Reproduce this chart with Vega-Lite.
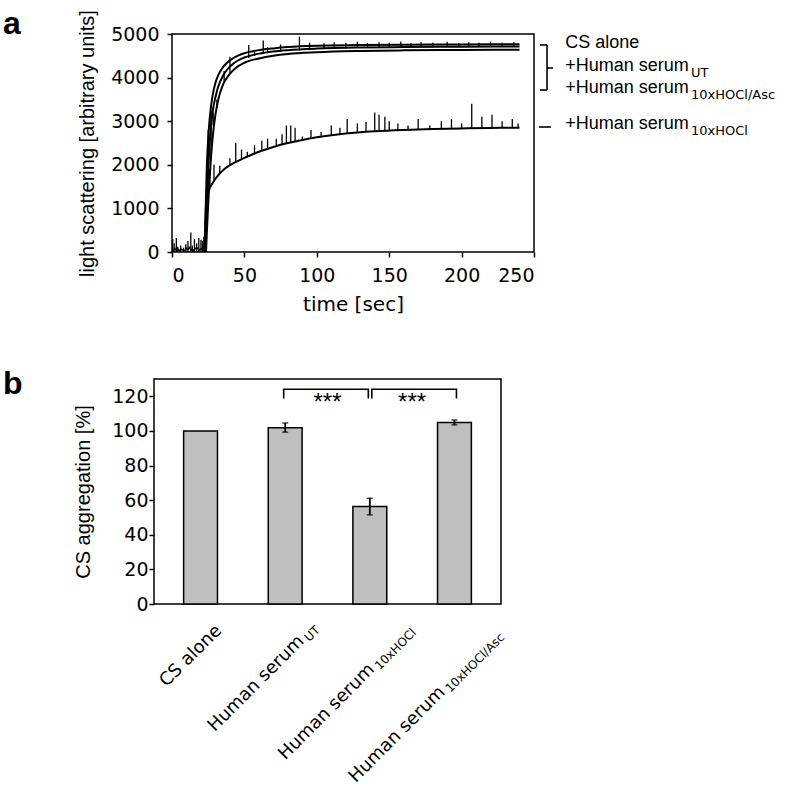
{
  "$schema": "https://vega.github.io/schema/vega-lite/v6.json",
  "background": "white",
  "padding": {"left": -5, "top": 6, "right": 0, "bottom": 0},
  "spacing": 52,
  "datasets": {
    "curves": [
      {"s": "A", "t": 22.5, "v": 0}, {"s": "A", "t": 23, "v": 600}, {"s": "A", "t": 23.5, "v": 1300}, {"s": "A", "t": 24, "v": 1900}, {"s": "A", "t": 25, "v": 2600}, {"s": "A", "t": 26, "v": 3050}, {"s": "A", "t": 27, "v": 3350}, {"s": "A", "t": 28, "v": 3580}, {"s": "A", "t": 30, "v": 3880}, {"s": "A", "t": 32, "v": 4060}, {"s": "A", "t": 35, "v": 4230}, {"s": "A", "t": 38, "v": 4340}, {"s": "A", "t": 42, "v": 4440}, {"s": "A", "t": 46, "v": 4510}, {"s": "A", "t": 50, "v": 4560}, {"s": "A", "t": 55, "v": 4600}, {"s": "A", "t": 60, "v": 4630}, {"s": "A", "t": 70, "v": 4670}, {"s": "A", "t": 80, "v": 4700}, {"s": "A", "t": 100, "v": 4730}, {"s": "A", "t": 130, "v": 4745}, {"s": "A", "t": 160, "v": 4755}, {"s": "A", "t": 200, "v": 4760}, {"s": "A", "t": 240, "v": 4765},
      {"s": "B", "t": 23, "v": 0}, {"s": "B", "t": 23.5, "v": 500}, {"s": "B", "t": 24, "v": 1100}, {"s": "B", "t": 25, "v": 1900}, {"s": "B", "t": 26, "v": 2500}, {"s": "B", "t": 27, "v": 2900}, {"s": "B", "t": 28, "v": 3200}, {"s": "B", "t": 30, "v": 3550}, {"s": "B", "t": 32, "v": 3800}, {"s": "B", "t": 35, "v": 4030}, {"s": "B", "t": 38, "v": 4180}, {"s": "B", "t": 42, "v": 4310}, {"s": "B", "t": 46, "v": 4400}, {"s": "B", "t": 50, "v": 4460}, {"s": "B", "t": 55, "v": 4510}, {"s": "B", "t": 60, "v": 4550}, {"s": "B", "t": 70, "v": 4600}, {"s": "B", "t": 80, "v": 4630}, {"s": "B", "t": 100, "v": 4665}, {"s": "B", "t": 130, "v": 4690}, {"s": "B", "t": 160, "v": 4700}, {"s": "B", "t": 200, "v": 4710}, {"s": "B", "t": 240, "v": 4715},
      {"s": "C", "t": 23.5, "v": 0}, {"s": "C", "t": 24, "v": 400}, {"s": "C", "t": 25, "v": 1100}, {"s": "C", "t": 26, "v": 1700}, {"s": "C", "t": 27, "v": 2200}, {"s": "C", "t": 28, "v": 2600}, {"s": "C", "t": 30, "v": 3150}, {"s": "C", "t": 32, "v": 3500}, {"s": "C", "t": 35, "v": 3820}, {"s": "C", "t": 38, "v": 4000}, {"s": "C", "t": 42, "v": 4160}, {"s": "C", "t": 46, "v": 4270}, {"s": "C", "t": 50, "v": 4340}, {"s": "C", "t": 55, "v": 4400}, {"s": "C", "t": 60, "v": 4440}, {"s": "C", "t": 70, "v": 4500}, {"s": "C", "t": 80, "v": 4540}, {"s": "C", "t": 100, "v": 4580}, {"s": "C", "t": 130, "v": 4610}, {"s": "C", "t": 160, "v": 4625}, {"s": "C", "t": 200, "v": 4635}, {"s": "C", "t": 240, "v": 4640},
      {"s": "D", "t": 22.5, "v": 0}, {"s": "D", "t": 23, "v": 600}, {"s": "D", "t": 23.5, "v": 1050}, {"s": "D", "t": 24, "v": 1250}, {"s": "D", "t": 25, "v": 1380}, {"s": "D", "t": 26, "v": 1460}, {"s": "D", "t": 28, "v": 1580}, {"s": "D", "t": 30, "v": 1680}, {"s": "D", "t": 33, "v": 1800}, {"s": "D", "t": 36, "v": 1900}, {"s": "D", "t": 40, "v": 1990}, {"s": "D", "t": 45, "v": 2080}, {"s": "D", "t": 50, "v": 2160}, {"s": "D", "t": 55, "v": 2230}, {"s": "D", "t": 60, "v": 2300}, {"s": "D", "t": 70, "v": 2410}, {"s": "D", "t": 80, "v": 2500}, {"s": "D", "t": 90, "v": 2570}, {"s": "D", "t": 100, "v": 2630}, {"s": "D", "t": 120, "v": 2720}, {"s": "D", "t": 140, "v": 2770}, {"s": "D", "t": 160, "v": 2800}, {"s": "D", "t": 180, "v": 2820}, {"s": "D", "t": 200, "v": 2835}, {"s": "D", "t": 220, "v": 2845}, {"s": "D", "t": 240, "v": 2850}
    ],
    "noise": [
      {"t": 0, "v": 100}, {"t": 1, "v": 40}, {"t": 2, "v": 90}, {"t": 3, "v": 30}, {"t": 4, "v": 70}, {"t": 5, "v": 20}, {"t": 6, "v": 80}, {"t": 7, "v": 40}, {"t": 8, "v": 60}, {"t": 9, "v": 20}, {"t": 10, "v": 90}, {"t": 11, "v": 50}, {"t": 12, "v": 110}, {"t": 13, "v": 40}, {"t": 14, "v": 70}, {"t": 15, "v": 30}, {"t": 16, "v": 90}, {"t": 17, "v": 50}, {"t": 18, "v": 100}, {"t": 19, "v": 40}, {"t": 20, "v": 80}, {"t": 21, "v": 60}, {"t": 22, "v": 90}, {"t": 22.5, "v": 0}
    ],
    "spikes": [
      {"t": 0.5, "lo": 0, "hi": 300}, {"t": 1.5, "lo": 0, "hi": 200}, {"t": 3, "lo": 0, "hi": 320}, {"t": 4, "lo": 0, "hi": 120}, {"t": 6, "lo": 0, "hi": 150}, {"t": 8, "lo": 0, "hi": 100}, {"t": 9.5, "lo": 0, "hi": 180}, {"t": 11, "lo": 0, "hi": 250}, {"t": 13, "lo": 0, "hi": 450}, {"t": 14, "lo": 0, "hi": 150}, {"t": 15.5, "lo": 0, "hi": 300}, {"t": 17, "lo": 0, "hi": 200}, {"t": 18.5, "lo": 0, "hi": 320}, {"t": 20, "lo": 0, "hi": 280}, {"t": 21, "lo": 0, "hi": 250}, {"t": 22, "lo": 0, "hi": 350},
      {"t": 25, "lo": 1500, "hi": 2800}, {"t": 27, "lo": 2200, "hi": 3250}, {"t": 28.5, "lo": 2900, "hi": 3200}, {"t": 31, "lo": 3300, "hi": 3500}, {"t": 36, "lo": 3900, "hi": 4150}, {"t": 40, "lo": 4100, "hi": 4480}, {"t": 53, "lo": 4450, "hi": 4750}, {"t": 57, "lo": 4500, "hi": 4620}, {"t": 63, "lo": 4550, "hi": 4850}, {"t": 66, "lo": 4560, "hi": 4700}, {"t": 75, "lo": 4600, "hi": 4760}, {"t": 88, "lo": 4620, "hi": 4940}, {"t": 95, "lo": 4640, "hi": 4800}, {"t": 105, "lo": 4660, "hi": 4790}, {"t": 112, "lo": 4660, "hi": 4810}, {"t": 120, "lo": 4670, "hi": 4800}, {"t": 128, "lo": 4680, "hi": 4820}, {"t": 135, "lo": 4680, "hi": 4790}, {"t": 143, "lo": 4690, "hi": 4810}, {"t": 150, "lo": 4690, "hi": 4800}, {"t": 158, "lo": 4690, "hi": 4830}, {"t": 165, "lo": 4700, "hi": 4790}, {"t": 172, "lo": 4700, "hi": 4810}, {"t": 180, "lo": 4700, "hi": 4800}, {"t": 190, "lo": 4700, "hi": 4820}, {"t": 198, "lo": 4700, "hi": 4790}, {"t": 205, "lo": 4710, "hi": 4810}, {"t": 212, "lo": 4710, "hi": 4800}, {"t": 220, "lo": 4710, "hi": 4830}, {"t": 228, "lo": 4710, "hi": 4800}, {"t": 236, "lo": 4710, "hi": 4810},
      {"t": 26, "lo": 1450, "hi": 1900}, {"t": 29, "lo": 1620, "hi": 2000}, {"t": 33, "lo": 1800, "hi": 1980}, {"t": 40, "lo": 1990, "hi": 2150}, {"t": 44, "lo": 2060, "hi": 2500}, {"t": 48, "lo": 2130, "hi": 2350}, {"t": 52, "lo": 2190, "hi": 2300}, {"t": 57, "lo": 2260, "hi": 2450}, {"t": 62, "lo": 2320, "hi": 2550}, {"t": 66, "lo": 2370, "hi": 2600}, {"t": 72, "lo": 2430, "hi": 2600}, {"t": 76, "lo": 2470, "hi": 2700}, {"t": 79, "lo": 2490, "hi": 2900}, {"t": 82, "lo": 2510, "hi": 2900}, {"t": 85, "lo": 2535, "hi": 2850}, {"t": 90, "lo": 2570, "hi": 2650}, {"t": 96, "lo": 2610, "hi": 2800}, {"t": 103, "lo": 2645, "hi": 2750}, {"t": 110, "lo": 2680, "hi": 2900}, {"t": 116, "lo": 2700, "hi": 2850}, {"t": 121, "lo": 2720, "hi": 3050}, {"t": 128, "lo": 2740, "hi": 2950}, {"t": 134, "lo": 2755, "hi": 2980}, {"t": 140, "lo": 2770, "hi": 3200}, {"t": 143, "lo": 2775, "hi": 3150}, {"t": 147, "lo": 2785, "hi": 3100}, {"t": 150, "lo": 2790, "hi": 3000}, {"t": 156, "lo": 2797, "hi": 2950}, {"t": 163, "lo": 2803, "hi": 2900}, {"t": 170, "lo": 2810, "hi": 3050}, {"t": 178, "lo": 2818, "hi": 2900}, {"t": 186, "lo": 2825, "hi": 3000}, {"t": 193, "lo": 2830, "hi": 3050}, {"t": 200, "lo": 2835, "hi": 2950}, {"t": 207, "lo": 2838, "hi": 3400}, {"t": 214, "lo": 2840, "hi": 3100}, {"t": 221, "lo": 2845, "hi": 3150}, {"t": 228, "lo": 2847, "hi": 3000}, {"t": 235, "lo": 2849, "hi": 3050}, {"t": 239, "lo": 2850, "hi": 2950}
    ],
    "legendLines": [
      {"t": 254.1, "t2": 259.0, "v": 4748, "v2": 4748},
      {"t": 259.0, "t2": 259.0, "v": 3716, "v2": 4748},
      {"t": 254.1, "t2": 259.0, "v": 3716, "v2": 3716},
      {"t": 259.0, "t2": 263.1, "v": 4220, "v2": 4220},
      {"t": 253.5, "t2": 261.7, "v": 2867, "v2": 2867}
    ],
    "legendText": [
      {"k": "main", "t": 271.5, "v": 4794, "txt": "CS alone"},
      {"k": "main", "t": 271.5, "v": 4266, "txt": "+Human serum"},
      {"k": "sub", "t": 358.4, "v": 4106, "txt": "UT"},
      {"k": "main", "t": 271.5, "v": 3761, "txt": "+Human serum"},
      {"k": "sub", "t": 358.4, "v": 3601, "txt": "10xHOCl/Asc"},
      {"k": "main", "t": 271.5, "v": 2936, "txt": "+Human serum"},
      {"k": "sub", "t": 358.4, "v": 2775, "txt": "10xHOCl"}
    ],
    "bars": [
      {"cat": "CS alone", "main": "CS alone", "sub": "", "val": 100},
      {"cat": "Human serum UT", "main": "Human serum", "sub": "UT", "val": 101.8, "lo": 99.3, "hi": 104.6},
      {"cat": "Human serum 10xHOCl", "main": "Human serum", "sub": "10xHOCl", "val": 56.3, "lo": 51.5, "hi": 61.1},
      {"cat": "Human serum 10xHOCl/Asc", "main": "Human serum", "sub": "10xHOCl/Asc", "val": 104.9, "lo": 103.5, "hi": 106.3}
    ],
    "brackets": [
      {"br": 1, "o": 1, "cat": "Human serum UT", "v": 118.7},
      {"br": 1, "o": 2, "cat": "Human serum UT", "v": 124.1},
      {"br": 1, "o": 3, "cat": "Human serum 10xHOCl", "v": 124.1},
      {"br": 1, "o": 4, "cat": "Human serum 10xHOCl", "v": 118.7},
      {"br": 2, "o": 1, "cat": "Human serum 10xHOCl", "v": 118.7},
      {"br": 2, "o": 2, "cat": "Human serum 10xHOCl", "v": 124.1},
      {"br": 2, "o": 3, "cat": "Human serum 10xHOCl/Asc", "v": 124.1},
      {"br": 2, "o": 4, "cat": "Human serum 10xHOCl/Asc", "v": 118.7}
    ],
    "stars": [
      {"cat": "Human serum UT", "s": "***", "v": 124.1},
      {"cat": "Human serum 10xHOCl", "s": "***", "v": 124.1}
    ],
    "spacer": [{"z": 0}]
  },
  "vconcat": [
    {"spacing": 0, "hconcat": [
    {"width": 1, "height": 1, "data": {"name": "spacer"}, "mark": {"type": "point", "opacity": 0}, "view": {"stroke": null}},
    {
      "width": 362,
      "height": 218,
      "title": {"text": "a", "anchor": "start", "frame": "group", "fontSize": 32, "fontWeight": "bold", "font": "Liberation Sans", "baseline": "alphabetic", "offset": 0, "dx": -169, "dy": 56, "color": "black"},
      "encoding": {
        "x": {"type": "quantitative", "title": "time [sec]", "scale": {"domain": [0, 250], "nice": false}, "axis": {"values": [0, 50, 100, 150, 200, 250], "format": "d", "labelPadding": 9, "titlePadding": 9, "titleFont": "DejaVu Sans"}},
        "y": {"type": "quantitative", "title": "light scattering [arbitrary units]", "scale": {"domain": [0, 5000], "nice": false}, "axis": {"values": [0, 1000, 2000, 3000, 4000, 5000], "format": "d", "labelPadding": 8, "titlePadding": 13}}
      },
      "layer": [
        {
          "data": {"name": "curves"},
          "mark": {"type": "line", "color": "black", "strokeWidth": 2, "interpolate": "monotone"},
          "encoding": {"x": {"field": "t"}, "y": {"field": "v"}, "detail": {"field": "s"}}
        },
        {
          "data": {"name": "noise"},
          "mark": {"type": "line", "color": "black", "strokeWidth": 1.2},
          "encoding": {"x": {"field": "t"}, "y": {"field": "v"}}
        },
        {
          "data": {"name": "spikes"},
          "mark": {"type": "rule", "color": "black", "strokeWidth": 1.3},
          "encoding": {"x": {"field": "t"}, "y": {"field": "lo"}, "y2": {"field": "hi"}}
        },
        {
          "data": {"name": "legendLines"},
          "mark": {"type": "rule", "color": "black", "strokeWidth": 1.6},
          "encoding": {"x": {"field": "t"}, "x2": {"field": "t2"}, "y": {"field": "v"}, "y2": {"field": "v2"}}
        },
        {
          "data": {"name": "legendText"},
          "transform": [{"filter": "datum.k == 'main'"}],
          "mark": {"type": "text", "align": "left", "baseline": "middle", "fontSize": 18, "font": "Liberation Sans", "color": "black"},
          "encoding": {"x": {"field": "t"}, "y": {"field": "v"}, "text": {"field": "txt"}}
        },
        {
          "data": {"name": "legendText"},
          "transform": [{"filter": "datum.k == 'sub'"}],
          "mark": {"type": "text", "align": "left", "baseline": "middle", "fontSize": 13, "font": "DejaVu Sans", "color": "black"},
          "encoding": {"x": {"field": "t"}, "y": {"field": "v"}, "text": {"field": "txt"}}
        }
      ]
    }
    ]},
    {"spacing": 0, "hconcat": [
    {"width": 1, "height": 1, "data": {"name": "spacer"}, "mark": {"type": "point", "opacity": 0}, "view": {"stroke": null}},
    {
      "width": 347,
      "height": 225,
      "title": {"text": "b", "anchor": "start", "frame": "group", "fontSize": 32, "fontWeight": "bold", "font": "Liberation Sans", "baseline": "alphabetic", "offset": 0, "dx": -151, "dy": 47, "color": "black"},
      "encoding": {
        "x": {"field": "cat", "type": "nominal", "sort": null, "title": null, "scale": {"paddingInner": 0.6, "paddingOuter": 0.35}, "axis": {"labels": false, "ticks": false, "domain": false}},
        "y": {"type": "quantitative", "title": "CS aggregation [%]", "scale": {"domain": [0, 130], "nice": false}, "axis": {"values": [0, 20, 40, 60, 80, 100, 120], "labelPadding": 1, "titlePadding": 18}}
      },
      "layer": [
        {
          "data": {"name": "bars"},
          "mark": {"type": "bar", "fill": "#bfbfbf", "stroke": "black", "strokeWidth": 1.5},
          "encoding": {"y": {"field": "val"}}
        },
        {
          "data": {"name": "bars"},
          "mark": {"type": "rule", "color": "black", "strokeWidth": 1.8},
          "encoding": {"y": {"field": "lo"}, "y2": {"field": "hi"}}
        },
        {
          "data": {"name": "bars"},
          "mark": {"type": "tick", "color": "black", "size": 6, "thickness": 1.5},
          "encoding": {"y": {"field": "lo"}}
        },
        {
          "data": {"name": "bars"},
          "mark": {"type": "tick", "color": "black", "size": 6, "thickness": 1.5},
          "encoding": {"y": {"field": "hi"}}
        },
        {
          "data": {"name": "brackets"},
          "transform": [{"filter": "datum.br == 1"}],
          "mark": {"type": "line", "color": "black", "strokeWidth": 1.6, "xOffset": -1.5},
          "encoding": {"y": {"field": "v"}, "order": {"field": "o"}}
        },
        {
          "data": {"name": "brackets"},
          "transform": [{"filter": "datum.br == 2"}],
          "mark": {"type": "line", "color": "black", "strokeWidth": 1.6, "xOffset": 2},
          "encoding": {"y": {"field": "v"}, "order": {"field": "o"}}
        },
        {
          "data": {"name": "stars"},
          "mark": {"type": "text", "align": "center", "baseline": "alphabetic", "fontSize": 24, "font": "Liberation Sans", "dx": 42.3, "dy": 21, "color": "black"},
          "encoding": {"y": {"field": "v"}, "text": {"field": "s"}}
        },
        {
          "data": {"name": "bars"},
          "transform": [{"filter": "datum.cat == 'CS alone'"}],
          "mark": {"type": "text", "angle": 315, "align": "right", "baseline": "middle", "fontSize": 18, "font": "DejaVu Sans", "dx": -4, "dy": 30, "color": "black"},
          "encoding": {"y": {"datum": 0}, "text": {"field": "main"}}
        },
        {
          "data": {"name": "bars"},
          "transform": [{"filter": "datum.cat == 'Human serum UT'"}],
          "mark": {"type": "text", "angle": 315, "align": "right", "baseline": "middle", "fontSize": 18, "font": "DejaVu Sans", "dx": -13, "dy": 36, "color": "black"},
          "encoding": {"y": {"datum": 0}, "text": {"field": "main"}}
        },
        {
          "data": {"name": "bars"},
          "transform": [{"filter": "datum.cat == 'Human serum UT'"}],
          "mark": {"type": "text", "angle": 315, "align": "left", "baseline": "middle", "fontSize": 12, "font": "DejaVu Sans", "dx": -10, "dy": 40, "color": "black"},
          "encoding": {"y": {"datum": 0}, "text": {"field": "sub"}}
        },
        {
          "data": {"name": "bars"},
          "transform": [{"filter": "datum.cat == 'Human serum 10xHOCl'"}],
          "mark": {"type": "text", "angle": 315, "align": "right", "baseline": "middle", "fontSize": 18, "font": "DejaVu Sans", "dx": -43, "dy": 46, "color": "black"},
          "encoding": {"y": {"datum": 0}, "text": {"field": "main"}}
        },
        {
          "data": {"name": "bars"},
          "transform": [{"filter": "datum.cat == 'Human serum 10xHOCl'"}],
          "mark": {"type": "text", "angle": 315, "align": "left", "baseline": "middle", "fontSize": 12, "font": "DejaVu Sans", "dx": -40, "dy": 50, "color": "black"},
          "encoding": {"y": {"datum": 0}, "text": {"field": "sub"}}
        },
        {
          "data": {"name": "bars"},
          "transform": [{"filter": "datum.cat == 'Human serum 10xHOCl/Asc'"}],
          "mark": {"type": "text", "angle": 315, "align": "right", "baseline": "middle", "fontSize": 18, "font": "DejaVu Sans", "dx": -69, "dy": 52, "color": "black"},
          "encoding": {"y": {"datum": 0}, "text": {"field": "main"}}
        },
        {
          "data": {"name": "bars"},
          "transform": [{"filter": "datum.cat == 'Human serum 10xHOCl/Asc'"}],
          "mark": {"type": "text", "angle": 315, "align": "left", "baseline": "middle", "fontSize": 12, "font": "DejaVu Sans", "dx": -66, "dy": 56, "color": "black"},
          "encoding": {"y": {"datum": 0}, "text": {"field": "sub"}}
        }
      ]
    }
    ]}
  ],
  "config": {
    "font": "DejaVu Sans",
    "view": {"stroke": "black", "strokeWidth": 1.5},
    "axis": {"grid": false, "domain": false, "tickColor": "black", "tickWidth": 1.5, "tickSize": 5, "labelColor": "black", "titleColor": "black", "labelFont": "DejaVu Sans", "titleFont": "Liberation Sans", "labelFontSize": 19, "titleFontSize": 20, "titleFontWeight": "normal"}
  }
}
